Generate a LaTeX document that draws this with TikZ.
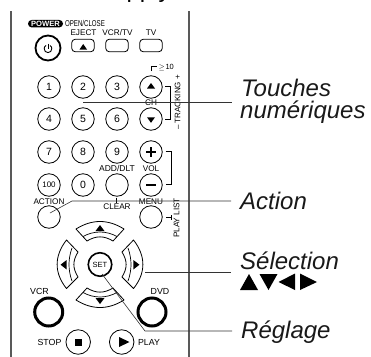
\documentclass[tikz,border=0pt]{standalone}
\usepackage{fontspec}
\setmainfont{Liberation Sans}
\tikzset{
 btn/.style={circle,draw=black,line width=0.8pt,minimum size=22.5pt,inner sep=0pt,font=\fontsize{10.5}{10.5}\selectfont},
 rbtn/.style={rounded corners=3.5pt,draw=black,line width=0.8pt,minimum width=22.5pt,minimum height=12.5pt,inner sep=0pt},
 thick btn/.style={circle,draw=black,line width=3pt,minimum size=28pt,inner sep=0pt},
 lbl/.style={inner sep=0pt,font=\fontsize{8.2}{8.2}\selectfont},
 call/.style={font=\fontsize{24}{24}\selectfont\itshape,inner sep=0pt,anchor=base west,text=black!90},
 lead/.style={draw=black!80,line width=0.6pt},
 tri/.style={fill=black,draw=none},
 pad/.style={draw=black,line width=0.8pt,fill=white,line join=round},
 arc line/.style={line width=.7pt},
}
\begin{document}
\begin{tikzpicture}[x=1pt,y=-1pt]
\useasboundingbox (0,0) rectangle (371,356);
\clip (0,0) rectangle (371,356);
% casing
\draw[draw=black!65,line width=1.2pt] (11,11) -- (11,357);
\draw[draw=black!65,line width=1.2pt] (189,11) -- (189,357);
% top text
\node[font=\fontsize{24}{24}\selectfont,anchor=base west,inner sep=0pt] (toptxt) at (113,-2.5) {apply};
% power row
\node[fill=black,text=white,rounded corners=3.7pt,inner sep=0pt,font=\fontsize{7.6}{7.6}\selectfont\bfseries,minimum width=35pt,minimum height=7.5pt] (pwrlbl) at (45.5,23.7) {POWER};
\node[lbl,font=\fontsize{8.5}{8.5}\selectfont,xscale=.72] (open) at (85,23.5) {OPEN/CLOSE};
\node[lbl] (ejl) at (83.5,33) {EJECT};
\node[lbl] (vcl) at (117.5,33) {VCR/TV};
\node[lbl] (tvl) at (151,33) {TV};
\node[circle,draw=black,line width=1.8pt,minimum size=25pt,inner sep=0pt] (pwr) at (48,48) {};
\node[rbtn] (ej) at (83,45.5) {};
\node[rbtn] (vc) at (117,45.5) {};
\node[rbtn] (tv) at (151,45.5) {};
\draw[line width=1pt] (48,43.5) -- (48,48.5);
\draw[line width=.9pt] (50,45.5) .. controls (51.5,46.3) and (51.8,47.5) .. (51.8,48.8) .. controls (51.8,50.9) and (50.1,52.6) .. (48,52.6) .. controls (45.9,52.6) and (44.2,50.9) .. (44.2,48.8) .. controls (44.2,47.5) and (44.5,46.3) .. (46,45.5);
\path[tri] (79.5,49.5) -- (87,49.5) -- (83.2,44) -- cycle;
% number buttons
\node[btn] (b1) at (49,87) {1};
\node[btn] (b2) at (83,87) {2};
\node[btn] (b3) at (117,87) {3};
\node[btn] (up) at (151,87) {};
\node[btn] (b4) at (49,119) {4};
\node[btn] (b5) at (83,119) {5};
\node[btn] (b6) at (117,119) {6};
\node[btn] (dn) at (151,119) {};
\node[btn] (b7) at (49,152) {7};
\node[btn] (b8) at (83,152) {8};
\node[btn] (b9) at (117,152) {9};
\node[btn] (pl) at (151,152) {};
\node[btn,font=\fontsize{8}{8}\selectfont] (b100) at (49,185) {100};
\node[btn] (b0) at (83,185) {0};
\node[btn] (add) at (117,185) {};
\node[btn] (mn) at (151,185) {};
\path[tri] (147,88.5) -- (155,88.5) -- (151,83) -- cycle;
\path[tri] (147,117.3) -- (155,117.3) -- (151,122.8) -- cycle;
\draw[line width=1.5pt] (146,152) -- (156,152) (151,147) -- (151,157);
\draw[line width=1.5pt] (146,185) -- (156,185);
% labels
\node[lbl,anchor=base west,font=\fontsize{7.5}{7.5}\selectfont] (ge) at (158.5,69.5) {$\geq$\kern.6pt10};
\draw[line width=.8pt] (151,71) -- (151,66.5) -- (157,66.5);
\node[lbl,rotate=90,font=\fontsize{8}{8}\selectfont] (trk) at (177.5,102.5) {– TRACKING +};
\node[lbl] (ch) at (151,103) {CH};
\node[lbl,font=\fontsize{8.5}{8.5}\selectfont] (addl) at (117,168.5) {ADD/DLT};
\node[lbl] (voll) at (151,168.5) {VOL};
\node[lbl] (clr) at (117,206.7) {CLEAR};
\node[lbl] (actl) at (49,201.5) {ACTION};
\node[lbl] (menl) at (151,201.5) {MENU};
\node[lbl,rotate=90] (pll) at (176.5,218) {PLAY LIST};
\node[btn] (act) at (49,217) {};
\node[btn] (men) at (151,217) {};
% brackets
\draw[line width=.7pt] (165,86) -- (170,86) -- (170,119) -- (165,119);
\draw[line width=.7pt] (165.5,151) -- (171,151) -- (171,184) -- (165.5,184);
\draw[line width=.7pt] (116.7,197.5) -- (116.7,203);
\draw[line width=.7pt] (166,217.5) -- (171,217.5) (171,215) -- (171,220);
% direction pads
\path[pad] (76,229) .. controls (92,219) and (108,219) .. (124,229) -- (113,241) .. controls (104,235.5) and (96,235.5) .. (87,241) -- cycle;
\path[pad] (76,300) .. controls (92,310) and (108,310) .. (124,300) -- (113,288) .. controls (104,293.5) and (96,293.5) .. (87,288) -- cycle;
\path[pad] (66.5,240) .. controls (54,256) and (54,273) .. (66.5,288.5) -- (78,277) .. controls (72.5,268) and (72.5,261) .. (78,252) -- cycle;
\path[pad] (133.5,240) .. controls (146,256) and (146,273) .. (133.5,288.5) -- (122,277) .. controls (127.5,268) and (127.5,261) .. (122,252) -- cycle;
\draw[arc line] (83,236.5) .. controls (94,230.5) and (106,230.5) .. (117,236.5);
\draw[arc line] (83,292.5) .. controls (94,298.5) and (106,298.5) .. (117,292.5);
\draw[arc line] (72,248) .. controls (68,259) and (68,270) .. (72,281);
\draw[arc line] (128,248) .. controls (132,259) and (132,270) .. (128,281);
\path[tri] (95.5,231) -- (104.5,231) -- (100,225) -- cycle;
\path[tri] (95.5,298) -- (104.5,298) -- (100,304) -- cycle;
\path[tri] (66.7,260) -- (66.7,269.5) -- (60.5,264.7) -- cycle;
\path[tri] (133.3,260) -- (133.3,269.5) -- (139.5,264.7) -- cycle;
\node[circle,draw=black,fill=white,line width=1.6pt,minimum size=23.5pt,inner sep=0pt,font=\fontsize{7.5}{7.5}\selectfont] (set) at (100,264.5) {SET};
% bottom
\node[lbl,font=\fontsize{8.8}{8.8}\selectfont] (vcrl) at (39.5,291) {VCR};
\node[lbl,font=\fontsize{8.8}{8.8}\selectfont] (dvdl) at (160,291) {DVD};
\node[thick btn] (vcr) at (48.7,312) {};
\node[thick btn] (dvd) at (152,312) {};
\node[btn,minimum size=24.5pt] (stop) at (78.2,342) {};
\node[btn,minimum size=24.5pt] (play) at (121.7,342) {};
\path[tri] (75,338.5) rectangle (82,345.5);
\path[tri] (119,337) -- (119,347) -- (129.5,342) -- cycle;
\node[lbl,font=\fontsize{8.8}{8.8}\selectfont] (stopl) at (49.5,342) {STOP};
\node[lbl,font=\fontsize{8.8}{8.8}\selectfont] (playl) at (149,342) {PLAY};
% callouts
\node[call] (t1) at (241,96) {Touches};
\node[call] (t2) at (240,118) {numériques};
\node[call] (t3) at (240,209) {Action};
\node[call] (t4) at (240,269) {Sélection};
\node[call] (t5) at (241,338) {Réglage};
\coordinate (e1) at (232,102);
\coordinate (s1) at (83,102);
\coordinate (e3) at (231,201);
\coordinate (s3a) at (72,201);
\coordinate (s3) at (50,213);
\coordinate (e4) at (231,272);
\coordinate (s4) at (145,272);
\coordinate (e5) at (232,331);
\coordinate (s5a) at (145,331);
\coordinate (s5) at (102,274);
\draw[lead] (s1) -- (e1);
\draw[lead] (s3) -- (s3a) -- (e3);
\draw[lead] (s4) -- (e4);
\draw[lead] (s5) -- (s5a) -- (e5);
\path[tri] (240,290) -- (258,290) -- (249,274) -- cycle;
\path[tri] (259.5,274) -- (277.5,274) -- (268.5,290) -- cycle;
\path[tri] (295,273.5) -- (295,290) -- (278.5,282) -- cycle;
\path[tri] (300,273.5) -- (300,290) -- (317,282) -- cycle;
\end{tikzpicture}
\end{document}
